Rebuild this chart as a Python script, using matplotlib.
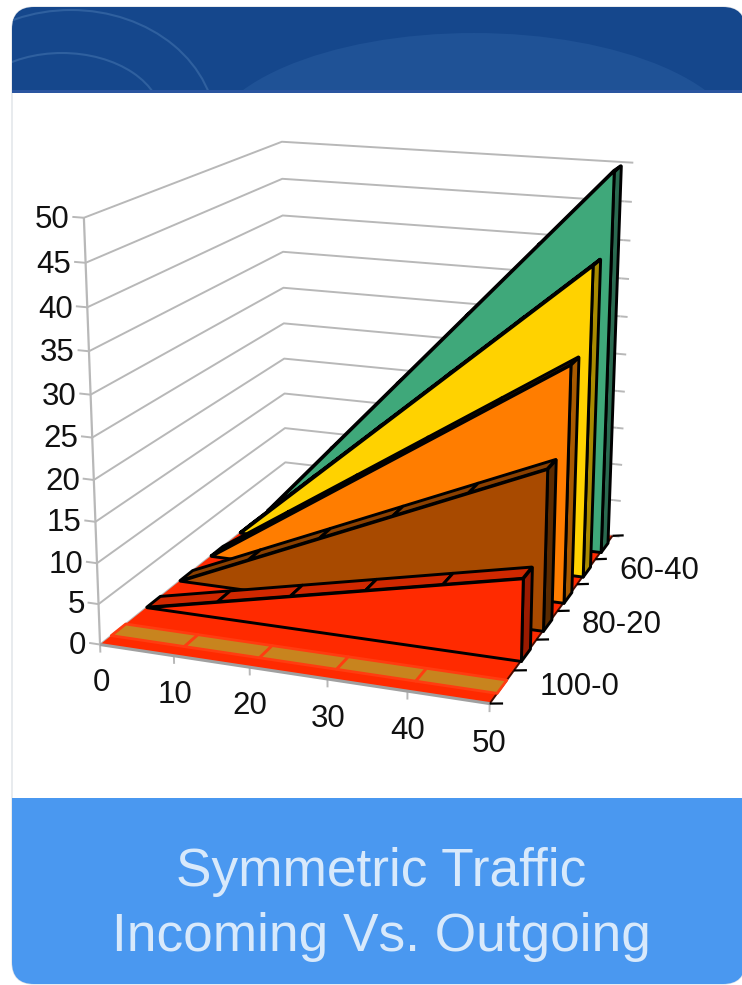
import numpy as np
import matplotlib
matplotlib.use('Agg')
import matplotlib.pyplot as plt
from matplotlib.patches import Ellipse, FancyBboxPatch, Rectangle
from matplotlib.transforms import Bbox, TransformedBbox
from mpl_toolkits.mplot3d import proj3d
from mpl_toolkits.mplot3d.art3d import Poly3DCollection

plt.rcParams['font.family'] = ['Liberation Sans', 'DejaVu Sans']

# chart data
categories = ['100-0', '90-10', '80-20', '70-30', '60-40', '50-50']
x_values = [0, 10, 20, 30, 40, 50]
series_100_0 = [0, 0, 0, 0, 0, 0]
series_90_10 = [0, 2, 4, 6, 8, 10]
series_80_20 = [0, 4, 8, 12, 16, 20]
series_70_30 = [0, 6, 12, 18, 24, 30]
series_60_40 = [0, 8, 16, 24, 32, 40]
series_50_50 = [0, 10, 20, 30, 40, 50]
z_ticks = [0, 5, 10, 15, 20, 25, 30, 35, 40, 45, 50]
title_lines = ['Symmetric Traffic', 'Incoming Vs. Outgoing']

all_series = [series_100_0, series_90_10, series_80_20, series_70_30, series_60_40, series_50_50]
front_colors = ['#ff2a00', '#ff2a00', '#a84a00', '#ff7d00', '#ffd200', '#3fa87a']
top_colors = ['#c8841e', '#d02800', '#8a4000', '#c86000', '#a88a10', '#2f7d5b']
side_colors = ['#c8841e', '#9a1a00', '#5a2a00', '#a85a00', '#a88a00', '#2a6a50']

W, H = 742, 985
fig = plt.figure(figsize=(W / 100, H / 100), dpi=100, facecolor='white')

# card behind the chart, in pixels
bg = fig.add_axes([0, 0, 1, 1], zorder=0)
bg.set_xlim(0, W)
bg.set_ylim(H, 0)
bg.axis('off')

card = FancyBboxPatch((12 + 22, 7 + 22), 733 - 44, 977 - 44, boxstyle='round,pad=22,rounding_size=22',
                      fc='white', ec='#dfe3e8', lw=1)
bg.add_patch(card)
header = Rectangle((0, 0), W, 93, fc='#15478c', ec='none')
bg.add_patch(header)
header.set_clip_path(card)
bg.add_patch(Rectangle((0, 90), W, 3, fc='#2a55a0', ec='none')).set_clip_path(card)

# decorations stay inside the rounded card and above the header's lower edge
header_box = TransformedBbox(Bbox([[0, 0], [W, 90]]), bg.transData)
decor = [Ellipse((474, 150), 538, 234, fc='#1f5296', ec='none')]
for cx, cy, w, h in [(71, 130, 290, 240), (62, 120, 200, 134)]:
    decor.append(Ellipse((cx, cy), w, h, fc='none', ec='#2f609f', lw=1.5))
for d in decor:
    bg.add_patch(d)
    d.set_clip_box(header_box)
    d.set_clip_path(card)

footer = Rectangle((0, 798), W, H - 798, fc='#4a98f0', ec='none')
bg.add_patch(footer)
footer.set_clip_path(card)
bg.text(381, 872, title_lines[0], color='#d8e9fb', fontsize=38.3, ha='center', va='center')
bg.text(381, 937, title_lines[1], color='#d8e9fb', fontsize=38.3, ha='center', va='center')

# 3d chart, camera taken from the calibration run
S = 713.3
ax = fig.add_axes([8.4 / W, 226 / H, S / W, S / H], projection='3d', zorder=1, computed_zorder=False)
ax.patch.set_visible(False)
ax.set_axis_off()
ax.set_xlim(0, 50, view_margin=0)
ax.set_ylim(0, 6, view_margin=0)
ax.set_zlim(0, 50, view_margin=0)
ax.view_init(15.96, -70.105, -0.111)
ax.set_proj_type('persp', focal_length=0.5289)
ax.set_box_aspect((0.8327, 1, 0.8877))
ax.apply_aspect()
proj = ax.get_proj()

n_cat = len(categories)
x_max = x_values[-1]
z_max = z_ticks[-1]
grid = '#b8b8b8'


def line(xs, ys, zs, color=grid, lw=1.4, z=1):
    ax.plot(xs, ys, zs, color=color, lw=lw, zorder=z, clip_on=False, solid_capstyle='butt')


def polys(verts, fc, ec, lw, z):
    col = Poly3DCollection(verts, facecolors=fc, edgecolors=ec, linewidths=lw, zorder=z)
    col.set_clip_on(False)
    ax.add_collection3d(col, autolim=False)


def label(x, y, z, s, ha):
    # project the data position, then place a flat label there
    xs, ys, _ = proj3d.proj_transform(x, y, z, proj)
    px, py = ax.transData.transform((xs, ys))
    fig.text(px / W, py / H, s, ha=ha, va='center', fontsize=22.5, color='#111111', zorder=5)


# walls
for t in z_ticks:
    line([0, 0, x_max], [0, n_cat, n_cat], [t, t, t])
    line([0, -1.5], [0, 0], [t, t])
    line([x_max, x_max + 1], [n_cat, n_cat], [t, t])
line([0, 0], [0, 0], [0, z_max], lw=1.6)

# floor
polys([[(0, 0, 0), (x_max, 0, 0), (x_max, n_cat, 0), (0, n_cat, 0)]], '#ff2a00', 'none', 0, 2)
line([x_max, x_max], [0, n_cat], [0, 0], color='#4a0c00', lw=1.4, z=2.5)
line([0, x_max], [0, 0], [0, 0], color='#a0a0a0', lw=2.2, z=2.5)

# series, back to front
for i in range(n_cat - 1, -1, -1):
    vals = all_series[i]
    d0, d1 = i + 0.3, i + 0.7
    base = 3 + (n_cat - i) * 3
    ec = 'black' if i > 0 else '#ff3c10'
    lw = 2.1 if i > 0 else 2.0
    ribbons = []
    for a in range(len(x_values) - 1):
        xa, xb = x_values[a], x_values[a + 1]
        ribbons.append([(xa, d0, vals[a]), (xb, d0, vals[a + 1]), (xb, d1, vals[a + 1]), (xa, d1, vals[a])])
    if i > 0:
        side = [(x_max, d0, 0), (x_max, d1, 0), (x_max, d1, vals[-1]), (x_max, d0, vals[-1])]
        polys([side], side_colors[i], ec, lw, base)
    polys(ribbons, top_colors[i], ec, lw, base + 1)
    if i > 0:
        front = [(x_values[a], d0, vals[a]) for a in range(len(x_values))]
        front.append((x_max, d0, 0))
        polys([front], front_colors[i], ec, lw, base + 2)

# axis ticks and labels
for t in z_ticks:
    label(-1.9, 0, t - 0.4, str(t), 'right')
for v in x_values:
    line([v, v], [0, 0], [0, -1], lw=1.4, z=2.4)
    label(v, 0, -4.8, str(v), 'center')
for d in range(n_cat + 1):
    line([x_max, x_max + 1.6], [d, d], [0, 0.25], color='black', lw=1.6, z=30)
for d in range(0, n_cat, 2):
    label(x_max + 4.5, d + 0.5, 0.6, categories[d], 'left')

fig.savefig('out.png', dpi=100, facecolor='white')
